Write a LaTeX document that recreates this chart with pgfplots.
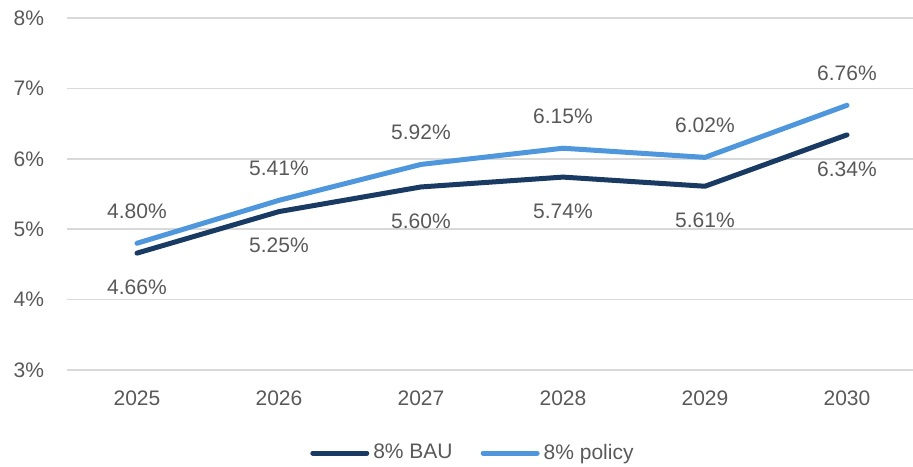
\documentclass[border=0pt]{standalone}
\usepackage{pgfplots}
\pgfplotsset{compat=1.18}
\usepackage{fontspec}
\setmainfont{Liberation Sans}
\definecolor{navy}{RGB}{24,58,99}
\definecolor{lblue}{RGB}{78,151,220}
\definecolor{txt}{RGB}{89,89,89}
\definecolor{gridc}{RGB}{217,217,217}
\begin{document}
\begin{tikzpicture}
\begin{axis}[
  scale only axis, width=423pt, height=176pt,
  xmin=-0.493, xmax=5.465, ymin=3, ymax=8,
  axis line style={draw=none},
  xtick={0,1,2,3,4,5},
  xticklabels={2025,2026,2027,2028,2029,2030},
  ytick={3,4,5,6,7,8},
  yticklabel={\pgfmathprintnumber[fixed,precision=0]{\tick}\%},
  ymajorgrids, xmajorgrids=false,
  y grid style={draw=gridc, line width=0.75pt},
  major tick length=0pt,
  tick label style={font=\fontsize{10.5pt}{12pt}\selectfont, text=txt},
  /pgf/number format/assume math mode=true,
  yticklabel style={xshift=-8pt},
  xticklabel style={yshift=-7pt},
  clip=false,
  legend style={at={(0.481,-0.236)}, anchor=center, draw=none, fill=none,
    legend columns=2, font=\fontsize{10.5pt}{12pt}\selectfont, text=txt,
    /tikz/every even column/.append style={column sep=12pt},
    inner sep=0pt},
  legend image code/.code={\draw[#1, line width=2.5pt, line cap=round] (0pt,0pt) -- (27pt,0pt);},
  nodes near coords style={font=\fontsize{10.5pt}{12pt}\selectfont, text=txt, anchor=center},
]
\addplot[navy, line width=2.5pt, line cap=round, line join=round,
  nodes near coords={\pgfmathprintnumber[fixed,fixed zerofill,precision=2]{\pgfplotspointmeta}\%},
  nodes near coords style={yshift=-17pt}]
  coordinates {(0,4.66) (1,5.25) (2,5.60) (3,5.74) (4,5.61) (5,6.34)};
\addlegendentry{8\% BAU}
\addplot[lblue, line width=2.5pt, line cap=round, line join=round,
  nodes near coords={\pgfmathprintnumber[fixed,fixed zerofill,precision=2]{\pgfplotspointmeta}\%},
  nodes near coords style={yshift=16pt}]
  coordinates {(0,4.80) (1,5.41) (2,5.92) (3,6.15) (4,6.02) (5,6.76)};
\addlegendentry{8\% policy}
\end{axis}
\pgfresetboundingbox
\useasboundingbox ([shift={(-33.5pt,-48.5pt)}]current axis.south west) rectangle ([shift={(0pt,9pt)}]current axis.north east);
\end{tikzpicture}
\end{document}
